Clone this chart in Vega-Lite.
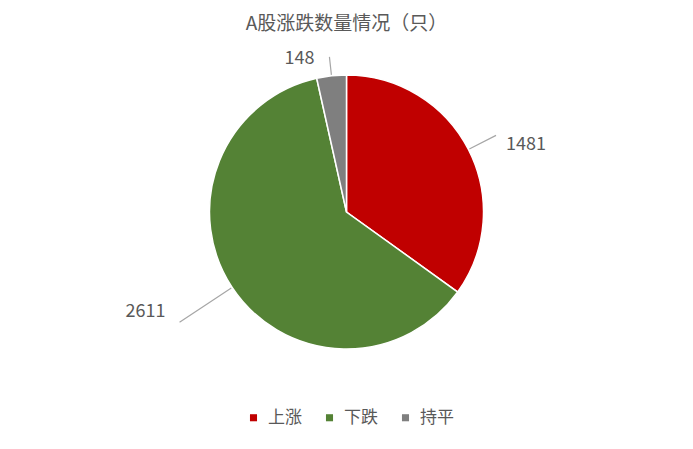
{
  "$schema": "https://vega.github.io/schema/vega-lite/v6.json",
  "width": 693,
  "height": 344,
  "autosize": "none",
  "padding": {"top": 40, "left": 0, "right": 0, "bottom": 65},
  "background": "white",
  "title": {
    "text": "A股涨跌数量情况（只）",
    "font": "Noto Sans CJK SC",
    "fontSize": 19,
    "fontWeight": "normal",
    "color": "#595959",
    "anchor": "middle",
    "offset": 6
  },
  "data": {
    "values": [
      {"状态": "上涨", "数量": 1481, "序": 1},
      {"状态": "下跌", "数量": 2611, "序": 2},
      {"状态": "持平", "数量": 148, "序": 3}
    ]
  },
  "transform": [
    {"stack": "数量", "groupby": [], "sort": [{"field": "序"}], "as": ["v0", "v1"]},
    {"calculate": "(datum.v0 + datum.v1) / 2", "as": "mid"}
  ],
  "layer": [
    {
      "mark": {"type": "arc", "radius": 137, "stroke": "white", "strokeWidth": 1.5},
      "encoding": {
        "theta": {"field": "v0", "type": "quantitative", "stack": null, "scale": {"domain": [0, 4240], "nice": false, "zero": true}},
        "theta2": {"field": "v1"},
        "color": {
          "field": "状态",
          "type": "nominal",
          "sort": ["上涨", "下跌", "持平"],
          "scale": {"domain": ["上涨", "下跌", "持平"], "range": ["#C00000", "#548235", "#7F7F7F"]},
          "legend": {
            "title": null,
            "orient": "none",
            "legendX": 245,
            "legendY": 369,
            "direction": "horizontal",
            "symbolType": "square",
            "symbolSize": 50,
            "symbolStrokeWidth": 0,
            "labelFont": "Noto Sans CJK SC",
            "labelFontSize": 17,
            "labelColor": "#595959",
            "columnPadding": 19,
            "labelOffset": 6,
            "padding": 0
          }
        }
      }
    },
    {
      "transform": [{"filter": "datum['状态'] == '上涨'"}],
      "layer": [
        {
          "mark": {"type": "arc", "radius": 138, "radius2": 168, "stroke": "#A6A6A6", "strokeWidth": 1.2, "fill": null},
          "encoding": {
            "theta": {"field": "mid", "type": "quantitative", "stack": null},
            "theta2": {"field": "mid"}
          }
        },
        {
          "mark": {"type": "text", "radius": 168, "align": "left", "dx": 10, "dy": 10, "font": "Noto Sans CJK SC", "fontSize": 18, "color": "#595959"},
          "encoding": {
            "theta": {"field": "mid", "type": "quantitative", "stack": null},
            "text": {"field": "数量", "type": "quantitative"}
          }
        }
      ]
    },
    {
      "transform": [{"filter": "datum['状态'] == '下跌'"}],
      "layer": [
        {
          "mark": {"type": "arc", "radius": 138, "radius2": 200, "stroke": "#A6A6A6", "strokeWidth": 1.2, "fill": null},
          "encoding": {
            "theta": {"field": "mid", "type": "quantitative", "stack": null},
            "theta2": {"field": "mid"}
          }
        },
        {
          "mark": {"type": "text", "radius": 200, "align": "right", "dx": -14, "dy": -10, "font": "Noto Sans CJK SC", "fontSize": 18, "color": "#595959"},
          "encoding": {
            "theta": {"field": "mid", "type": "quantitative", "stack": null},
            "text": {"field": "数量", "type": "quantitative"}
          }
        }
      ]
    },
    {
      "transform": [{"filter": "datum['状态'] == '持平'"}],
      "layer": [
        {
          "mark": {"type": "arc", "radius": 138, "radius2": 156, "stroke": "#A6A6A6", "strokeWidth": 1.2, "fill": null},
          "encoding": {
            "theta": {"field": "mid", "type": "quantitative", "stack": null},
            "theta2": {"field": "mid"}
          }
        },
        {
          "mark": {"type": "text", "radius": 156, "align": "right", "dx": -15, "dy": 2, "font": "Noto Sans CJK SC", "fontSize": 18, "color": "#595959"},
          "encoding": {
            "theta": {"field": "mid", "type": "quantitative", "stack": null},
            "text": {"field": "数量", "type": "quantitative"}
          }
        }
      ]
    }
  ]
}
